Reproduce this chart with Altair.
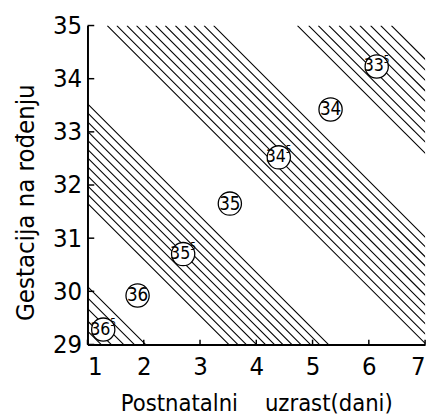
import altair as alt
import pandas as pd

# Axis ticks
x_ticks = [1, 2, 3, 4, 5, 6, 7]
y_ticks = [29, 30, 31, 32, 33, 34, 35]

# Hatch lines: x position where each line meets the y = 29 baseline (extended)
band_365 = [1.24, 1.42, 1.64, 1.83, 2.03]
band_355 = [3.51, 3.67, 3.82, 4.00, 4.16, 4.32, 4.47, 4.63, 4.79, 4.96, 5.12, 5.28]
band_345 = [7.02, 7.19, 7.37, 7.54, 7.70, 7.88, 8.05, 8.23, 8.40, 8.56, 8.74, 8.91]
band_335 = [10.40, 10.60, 10.77, 10.96, 11.14, 11.33, 11.51, 11.70, 11.88, 12.07]

# Circled labels (number + optional superscript)
labels = ["36", "36", "35", "35", "34", "34", "33"]
sups = ["5", "", "5", "", "5", "", "5"]
label_x = [1.28, 1.89, 2.70, 3.53, 4.40, 5.32, 6.14]
label_y = [29.28, 29.92, 30.70, 31.65, 32.52, 33.42, 34.23]

W, H = 344, 325
K = (W / 6) / (H / 6)  # y-units per x-unit for a 45-degree hatch line
FONT = "DejaVu Sans Condensed"

rows = []
for b, xs in enumerate([band_365, band_355, band_345, band_335]):
    for i, x0 in enumerate(xs):
        rows.append({"line": f"{b}-{i}", "x": x0, "y": 29, "o": 0})
        rows.append({"line": f"{b}-{i}", "x": x0 - 6 / K, "y": 35, "o": 1})
lines_df = pd.DataFrame(rows)
lab_df = pd.DataFrame({"lab": labels, "sup": sups, "x": label_x, "y": label_y})
xt_df = pd.DataFrame({"t": x_ticks})
yt_df = pd.DataFrame({"t": y_ticks})

xscale = alt.Scale(domain=[1, 7], nice=False, zero=False)
yscale = alt.Scale(domain=[29, 35], nice=False, zero=False)

xaxis = alt.Axis(
    values=x_ticks, format="d", title="Postnatalni\u00a0\u00a0\u00a0 uzrast(dani)", grid=False,
    labelFont=FONT, labelFontSize=26, labelColor="black", labelPadding=10,
    ticks=False, domainColor="black", domainWidth=2,
    titleFont=FONT, titleFontSize=24, titleFontWeight="normal", titleColor="black",
    titleY=67, titleBaseline="alphabetic",
)
yaxis = alt.Axis(
    values=y_ticks, format="d", title="Gestacija na ro\u0111enju", grid=False,
    labelFont=FONT, labelFontSize=26, labelColor="black", labelPadding=6,
    ticks=False, domainColor="black", domainWidth=2,
    titleFont=FONT, titleFontSize=26, titleFontWeight="normal", titleColor="black",
    titleX=-55, titleY=180, titleBaseline="alphabetic",
)

hatch = alt.Chart(lines_df).mark_line(clip=True, color="black", strokeWidth=1.1).encode(
    x=alt.X("x:Q", scale=xscale, axis=xaxis),
    y=alt.Y("y:Q", scale=yscale, axis=yaxis),
    detail="line:N",
    order="o:Q",
)

xticks = alt.Chart(xt_df).mark_rule(color="black", strokeWidth=1.5).encode(
    x=alt.X("t:Q", scale=xscale), y=alt.datum(29), y2=alt.datum(29.09)
)
yticks = alt.Chart(yt_df).mark_rule(color="black", strokeWidth=1.5).encode(
    y=alt.Y("t:Q", scale=yscale), x=alt.datum(1), x2=alt.datum(1.12)
)

circles = alt.Chart(lab_df).mark_circle(
    size=560, color="white", opacity=1, stroke="black", strokeWidth=1.3
).encode(x=alt.X("x:Q", scale=xscale), y=alt.Y("y:Q", scale=yscale))

plain = alt.Chart(lab_df).transform_filter(alt.datum.sup == "").mark_text(
    font=FONT, fontSize=19, color="black", align="center", baseline="middle"
).encode(x=alt.X("x:Q", scale=xscale), y=alt.Y("y:Q", scale=yscale), text="lab:N")

main_sup = alt.Chart(lab_df).transform_filter(alt.datum.sup != "").mark_text(
    font=FONT, fontSize=18, color="black", align="center", baseline="middle", dx=-3
).encode(x=alt.X("x:Q", scale=xscale), y=alt.Y("y:Q", scale=yscale), text="lab:N")

sup_txt = alt.Chart(lab_df).transform_filter(alt.datum.sup != "").mark_text(
    font=FONT, fontSize=10, color="black", align="center", baseline="middle", dx=10, dy=-7
).encode(x=alt.X("x:Q", scale=xscale), y=alt.Y("y:Q", scale=yscale), text="sup:N")

chart = (
    alt.layer(hatch, xticks, yticks, circles, plain, main_sup, sup_txt)
    .properties(
        width=W, height=H, autosize="none",
        padding={"left": 81, "top": 14, "right": 5, "bottom": 69},
    )
    .configure_view(strokeWidth=0)
)

chart.save("out.html", embed_options={"renderer": "svg", "actions": False})
